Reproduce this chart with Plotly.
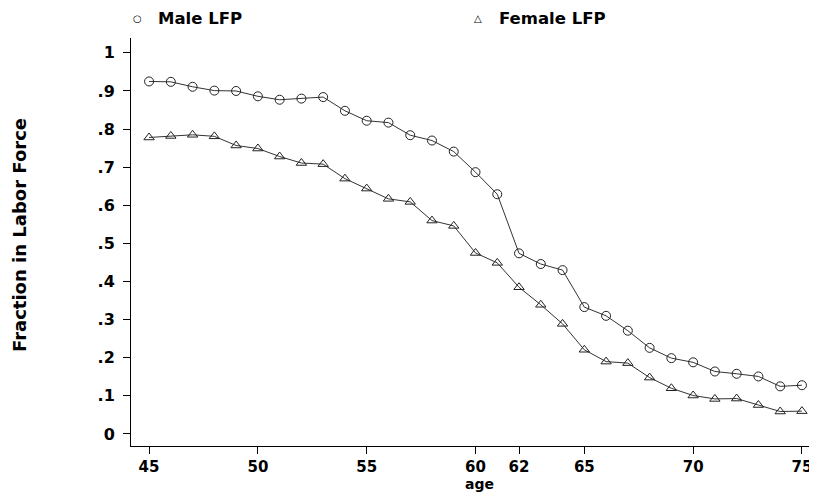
import plotly.graph_objects as go

ages = list(range(45, 76))
male_lfp = [0.925, 0.924, 0.911, 0.901, 0.900, 0.886, 0.877, 0.880, 0.884, 0.848,
            0.822, 0.817, 0.784, 0.770, 0.741, 0.687, 0.629, 0.474, 0.446, 0.430,
            0.333, 0.310, 0.271, 0.226, 0.199, 0.188, 0.164, 0.158, 0.151, 0.125,
            0.128]
female_lfp = [0.778, 0.782, 0.785, 0.781, 0.757, 0.749, 0.728, 0.711, 0.708, 0.670,
              0.644, 0.617, 0.609, 0.560, 0.546, 0.475, 0.449, 0.385, 0.339, 0.289,
              0.221, 0.190, 0.186, 0.148, 0.120, 0.101, 0.092, 0.093, 0.076, 0.059,
              0.060]
x_ticks = [45, 50, 55, 60, 62, 65, 70, 75]
y_ticks = [0, 0.1, 0.2, 0.3, 0.4, 0.5, 0.6, 0.7, 0.8, 0.9, 1.0]
y_ticktext = ["0", ".1", ".2", ".3", ".4", ".5", ".6", ".7", ".8", ".9", "1"]
legend_labels = ["Male LFP", "Female LFP"]
x_title = "age"
y_title = "Fraction in Labor Force"

FONT = "DejaVu Sans, Liberation Sans, sans-serif"

# page has an 8px body margin; figure geometry compensates
L, T, PW, PH = 123, 30, 684, 408


def px(xp):  # figure-pixel x -> paper x
    return (xp - L) / PW


def py(yp):  # figure-pixel y -> paper y
    return 1 - (yp - T) / PH


fig = go.Figure()
fig.add_trace(go.Scatter(
    x=ages, y=male_lfp, mode="lines+markers", name=legend_labels[0], showlegend=False,
    line=dict(color="#333333", width=1),
    marker=dict(symbol="circle-open", size=9, color="#222222", line=dict(width=1)),
))
fig.add_trace(go.Scatter(
    x=ages, y=female_lfp, mode="lines+markers", name=legend_labels[1], showlegend=False,
    line=dict(color="#333333", width=1),
    marker=dict(symbol="triangle-up-open", size=9, color="#222222", line=dict(width=1)),
))

# legend drawn as annotations in the top margin (page coords minus 8)
fig.add_annotation(xref="paper", yref="paper", x=px(129.5), y=py(10.5),
                   text="○", showarrow=False, xanchor="center", yanchor="middle",
                   font=dict(family="DejaVu Sans", size=10, color="black"))
fig.add_annotation(xref="paper", yref="paper", x=px(148), y=py(10.5),
                   text=legend_labels[0], showarrow=False,
                   xanchor="left", yanchor="middle",
                   font=dict(family=FONT, size=16.5, color="black", weight="bold"))
fig.add_annotation(xref="paper", yref="paper", x=px(470), y=py(10.5),
                   text="△", showarrow=False, xanchor="center", yanchor="middle",
                   font=dict(family="DejaVu Sans", size=10, color="black"))
fig.add_annotation(xref="paper", yref="paper", x=px(489), y=py(10.5),
                   text=legend_labels[1], showarrow=False,
                   xanchor="left", yanchor="middle",
                   font=dict(family=FONT, size=16.5, color="black", weight="bold"))
# axis titles
fig.add_annotation(xref="paper", yref="paper", x=px(471), y=py(476),
                   text=x_title, showarrow=False, xanchor="center", yanchor="middle",
                   borderpad=0,
                   font=dict(family=FONT, size=14, color="black", weight="bold"))
fig.add_annotation(xref="paper", yref="paper", x=px(11), y=py(227),
                   text=y_title, showarrow=False, xanchor="center", yanchor="middle",
                   textangle=-90,
                   font=dict(family=FONT, size=18, color="black", weight="bold"))

fig.update_layout(
    width=809, height=485,
    margin=dict(l=L, r=809 - L - PW, t=T, b=485 - T - PH, autoexpand=False),
    paper_bgcolor="white", plot_bgcolor="white",
    font=dict(family=FONT, color="black", size=14),
    showlegend=False,
)
fig.update_xaxes(
    range=[44.17, 75.6], tickvals=x_ticks, ticktext=[str(v) for v in x_ticks],
    showgrid=False, zeroline=False, showline=True, linecolor="black", linewidth=1,
    ticks="outside", ticklen=7, tickcolor="black", automargin=False,
    tickfont=dict(family=FONT, size=15, color="black", weight="bold"),
)
fig.update_yaxes(
    range=[-0.0315, 1.039], tickvals=y_ticks, ticktext=y_ticktext,
    showgrid=False, zeroline=False, showline=True, linecolor="black", linewidth=1,
    ticks="outside", ticklen=7, tickcolor="black", automargin=False,
    ticklabelstandoff=5,
    tickfont=dict(family=FONT, size=16, color="black", weight="bold"),
)

fig.write_html("out.html")
